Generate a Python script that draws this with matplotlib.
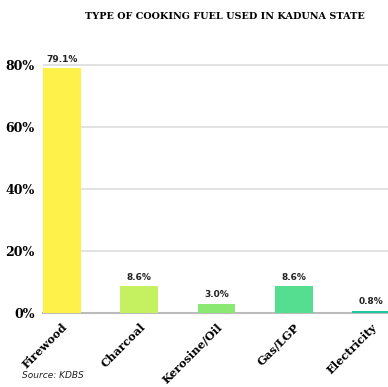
import matplotlib
matplotlib.use("Agg")
import matplotlib.pyplot as plt
from matplotlib.ticker import FuncFormatter

categories = ["Firewood", "Charcoal", "Kerosine/Oil", "Gas/LGP", "Electricity"]
values = [79.1, 8.6, 3.0, 8.6, 0.8]
labels = ["79.1%", "8.6%", "3.0%", "8.6%", "0.8%"]
colors = ["#fef24a", "#c5f060", "#8be873", "#55de8f", "#1dc9a0"]
yticks = [0, 20, 40, 60, 80]

fig = plt.figure(figsize=(3.88, 3.87), dpi=100)
ax = fig.add_axes([0.111, 0.191, 0.889, 0.72])
x = list(range(len(categories)))
ax.bar(x, values, width=0.49, color=colors, zorder=3)
for xi, v, lab in zip(x, values, labels):
    ax.text(xi, v + 1.5, lab, ha="center", va="bottom", fontsize=6.5,
            fontweight="bold", family="DejaVu Sans", color="#222222")

ax.set_xlim(-0.245, 4.22)
ax.set_ylim(0, 90)
ax.set_yticks(yticks)
ax.yaxis.set_major_formatter(FuncFormatter(lambda v, p: f"{int(v)}%"))
ax.set_xticks(x)
ax.set_xticklabels(categories, rotation=45, ha="right", rotation_mode="anchor",
                   family="DejaVu Serif", fontweight="bold", fontsize=8.2)
for t in ax.get_yticklabels():
    t.set_family("DejaVu Serif")
    t.set_fontweight("bold")
    t.set_fontsize(9)
ax.tick_params(axis="both", length=0, pad=6)
ax.grid(axis="y", color="#dddddd", linewidth=1.2, zorder=0)
for s in ["top", "right", "left"]:
    ax.spines[s].set_visible(False)
ax.spines["bottom"].set_color("#bbbbbb")
ax.spines["bottom"].set_linewidth(1.5)

fig.text(0.58, 0.958, "TYPE OF COOKING FUEL USED IN KADUNA STATE", ha="center",
         va="center", family="DejaVu Serif", fontweight="bold", fontsize=6.9)
fig.text(0.057, 0.018, "Source: KDBS", ha="left", va="bottom", style="italic",
         family="DejaVu Sans", fontsize=6.5, color="#222222")

fig.savefig("out.png", dpi=100)
